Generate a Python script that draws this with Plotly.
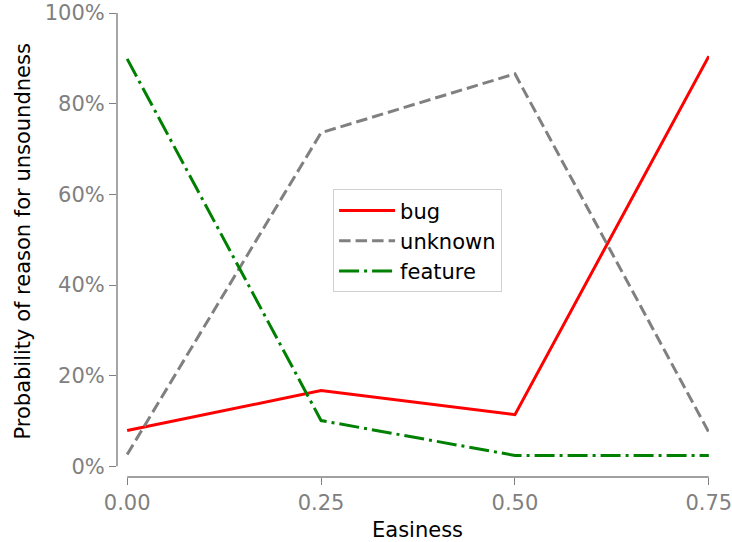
import plotly.graph_objects as go

easiness = [0.0, 0.25, 0.50, 0.75]
bug = [0.079, 0.167, 0.114, 0.905]
unknown = [0.026, 0.736, 0.866, 0.075]
feature = [0.899, 0.101, 0.024, 0.024]
x_ticks = [0.0, 0.25, 0.50, 0.75]
x_ticklabels = ["0.00", "0.25", "0.50", "0.75"]
y_ticks = [0, 0.2, 0.4, 0.6, 0.8, 1.0]
y_ticklabels = ["0%", "20%", "40%", "60%", "80%", "100%"]
x_title = "Easiness"
y_title = "Probability of reason for unsoundness"

FONT = "DejaVu Sans"
GRAY = "#808080"
FS = 21

fig = go.Figure()
fig.add_trace(go.Scatter(x=easiness, y=bug, mode="lines", name="bug",
                         line=dict(color="red", width=3)))
fig.add_trace(go.Scatter(x=easiness, y=unknown, mode="lines", name="unknown",
                         line=dict(color="gray", width=3, dash="11.5px,5px")))
fig.add_trace(go.Scatter(x=easiness, y=feature, mode="lines", name="feature",
                         line=dict(color="green", width=3, dash="20px,5px,3px,5px")))

xpad = 0.0131
ypad = 0.0236
fig.update_layout(
    width=732, height=542,
    margin=dict(l=117, r=23, t=13, b=65),
    plot_bgcolor="white", paper_bgcolor="white",
    font=dict(family=FONT, size=FS, color="black"),
    showlegend=True,
    legend=dict(x=0.365, y=0.62, xanchor="left", yanchor="top",
                bgcolor="white", bordercolor="#d0d0d0", borderwidth=1,
                tracegroupgap=0, itemwidth=56,
                font=dict(family=FONT, size=FS, color="black")),
    xaxis=dict(range=[-xpad, 0.7502], tickvals=x_ticks, ticktext=x_ticklabels,
               showgrid=False, zeroline=False, showline=False, automargin=False,
               ticklabeloverflow="allow",
               ticks="outside", ticklen=7, tickwidth=1.4, tickcolor=GRAY,
               tickfont=dict(color=GRAY, size=FS, family=FONT)),
    yaxis=dict(range=[-ypad, 1.0002], tickvals=y_ticks, ticktext=y_ticklabels,
               showgrid=False, zeroline=False, showline=False, automargin=False,
               ticklabeloverflow="allow",
               ticks="outside", ticklen=7, tickwidth=1.4, tickcolor=GRAY,
               tickfont=dict(color=GRAY, size=FS, family=FONT)),
)
# axis titles centred on the data span (as in the reference)
fig.add_annotation(text=x_title, xref="paper", yref="paper",
                   x=(417 - 117) / 592, y=(477 - 530) / 464,
                   xanchor="center", yanchor="middle", showarrow=False,
                   font=dict(family=FONT, size=FS, color="black"))
fig.add_annotation(text=y_title, xref="paper", yref="paper", textangle=-90,
                   x=(23 - 117) / 592, y=(477 - 241.5) / 464,
                   xanchor="center", yanchor="middle", showarrow=False,
                   font=dict(family=FONT, size=FS, color="black"))
# offset spines limited to the data span
fig.add_shape(type="line", xref="paper", yref="y", x0=0, x1=0, y0=0, y1=1.0,
              line=dict(color=GRAY, width=1.4))
fig.add_shape(type="line", xref="x", yref="paper", x0=0, x1=0.75, y0=0, y1=0,
              line=dict(color=GRAY, width=1.4))

fig.write_html("out.html", config={"displayModeBar": False},
               post_script=["document.body.style.margin='0px';"])
